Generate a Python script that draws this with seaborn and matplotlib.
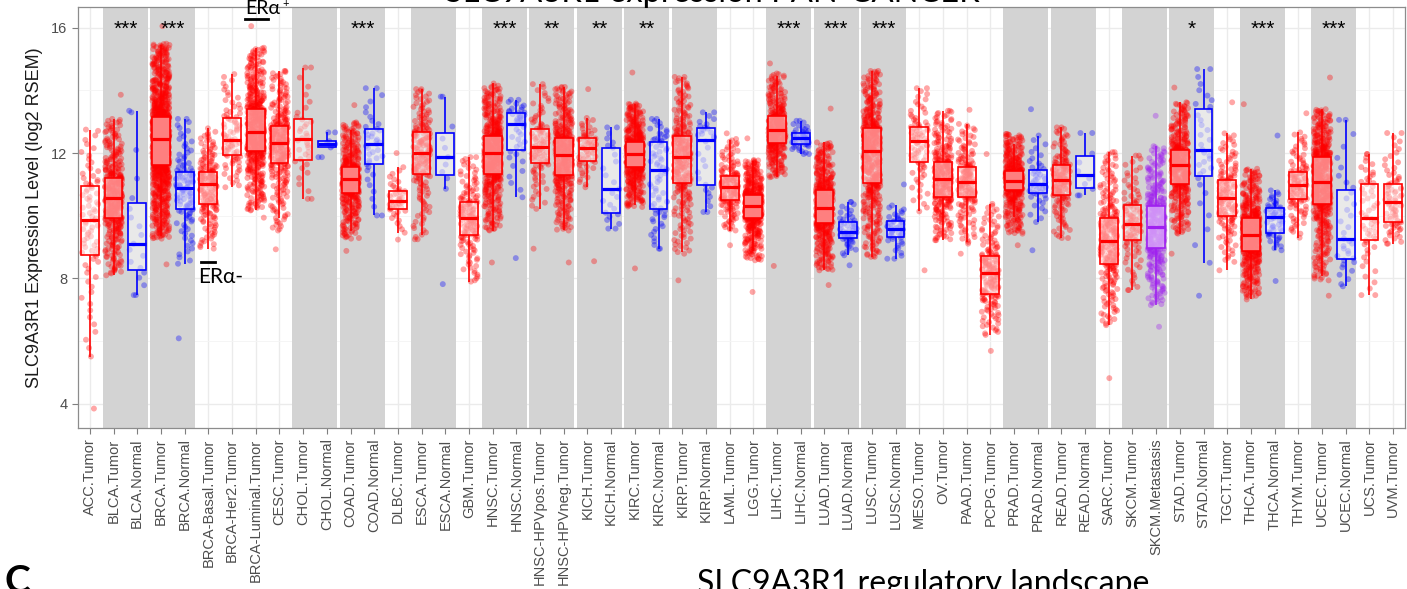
import numpy as np
import pandas as pd
import matplotlib
matplotlib.use("Agg")
import matplotlib.pyplot as plt
from matplotlib.lines import Line2D
import seaborn as sns

# ---- data: SLC9A3R1 expression summary per TCGA cohort (log2 RSEM) ----
groups = [
    "ACC.Tumor", "BLCA.Tumor", "BLCA.Normal", "BRCA.Tumor", "BRCA.Normal",
    "BRCA-Basal.Tumor", "BRCA-Her2.Tumor", "BRCA-Luminal.Tumor", "CESC.Tumor",
    "CHOL.Tumor", "CHOL.Normal", "COAD.Tumor", "COAD.Normal", "DLBC.Tumor",
    "ESCA.Tumor", "ESCA.Normal", "GBM.Tumor", "HNSC.Tumor", "HNSC.Normal",
    "HNSC-HPVpos.Tumor", "HNSC-HPVneg.Tumor", "KICH.Tumor", "KICH.Normal",
    "KIRC.Tumor", "KIRC.Normal", "KIRP.Tumor", "KIRP.Normal", "LAML.Tumor",
    "LGG.Tumor", "LIHC.Tumor", "LIHC.Normal", "LUAD.Tumor", "LUAD.Normal",
    "LUSC.Tumor", "LUSC.Normal", "MESO.Tumor", "OV.Tumor", "PAAD.Tumor",
    "PCPG.Tumor", "PRAD.Tumor", "PRAD.Normal", "READ.Tumor", "READ.Normal",
    "SARC.Tumor", "SKCM.Tumor", "SKCM.Metastasis", "STAD.Tumor", "STAD.Normal",
    "TGCT.Tumor", "THCA.Tumor", "THCA.Normal", "THYM.Tumor", "UCEC.Tumor",
    "UCEC.Normal", "UCS.Tumor", "UVM.Tumor",
]
n_samples = [79, 408, 19, 1093, 112, 190, 82, 566, 304, 36, 9, 457, 41, 48,
             184, 11, 153, 520, 44, 97, 421, 66, 25, 533, 72, 290, 32, 173,
             516, 371, 50, 515, 59, 501, 51, 87, 303, 179, 179, 497, 52, 166,
             10, 259, 103, 368, 415, 35, 150, 509, 59, 120, 545, 35, 57, 80]
low_point = [3.85, 8.10, 7.47, 8.45, 6.09, 8.95, 10.91, 9.94, 8.93, 10.54, 11.87,
             8.88, 10.01, 9.24, 9.25, 7.82, 7.90, 8.51, 8.65, 8.95, 8.51, 8.55,
             9.59, 8.32, 8.95, 7.94, 10.12, 9.06, 7.57, 8.40, 11.97, 7.79, 8.42,
             8.69, 8.63, 8.26, 9.22, 8.79, 5.69, 9.06, 8.90, 9.29, 10.65, 4.82,
             7.63, 6.46, 8.79, 7.45, 8.26, 7.33, 7.92, 9.30, 7.45, 7.75, 7.47, 9.11]
low_whisker = [5.51, 8.16, 7.47, 9.27, 8.47, 9.00, 10.97, 10.17, 9.53, 10.54, 11.87,
               9.27, 10.01, 9.46, 9.25, 10.86, 7.94, 9.53, 10.59, 10.22, 9.53, 10.91,
               9.59, 10.28, 8.95, 8.79, 10.12, 9.53, 8.58, 11.23, 11.97, 8.26, 8.74,
               8.69, 8.63, 10.14, 9.22, 9.11, 6.20, 9.43, 9.80, 9.29, 10.65, 6.51,
               7.63, 7.15, 9.43, 8.50, 8.53, 7.41, 8.90, 9.43, 7.94, 7.82, 7.47, 9.11]
q1 = [8.74, 9.93, 8.24, 11.63, 10.21, 10.38, 11.94, 12.08, 11.69, 11.79, 12.18,
      10.74, 11.64, 10.22, 11.34, 11.28, 9.38, 11.34, 12.10, 11.69, 11.30, 11.74,
      10.10, 11.55, 10.22, 11.05, 10.94, 10.49, 9.94, 12.31, 12.29, 9.77, 9.29,
      11.05, 9.34, 11.73, 10.59, 10.59, 7.52, 10.83, 10.72, 10.65, 10.88, 8.47,
      9.22, 8.97, 11.01, 11.28, 9.99, 8.87, 9.46, 10.52, 10.36, 8.60, 9.22, 9.80]
median = [9.86, 10.56, 9.11, 12.45, 10.89, 11.00, 12.43, 12.68, 12.32, 12.44, 12.29,
          11.16, 12.29, 10.48, 12.00, 11.87, 9.93, 11.99, 12.95, 12.18, 11.94, 12.17,
          10.85, 11.96, 11.46, 11.87, 12.47, 10.91, 10.31, 12.75, 12.47, 10.24, 9.48,
          12.06, 9.59, 12.38, 11.18, 11.07, 8.16, 11.11, 11.02, 11.15, 11.28, 9.20,
          9.75, 9.64, 11.61, 12.11, 10.56, 9.40, 9.96, 10.98, 11.07, 9.27, 9.94, 10.44]
q3 = [10.97, 11.22, 10.36, 13.16, 11.40, 11.41, 13.11, 13.40, 12.87, 13.09, 12.38,
      11.55, 12.77, 10.79, 12.68, 12.61, 10.45, 12.56, 13.28, 12.77, 12.48, 12.48,
      12.17, 12.36, 12.36, 12.53, 12.79, 11.26, 10.66, 13.17, 12.64, 10.81, 9.79,
      12.79, 9.84, 12.84, 11.72, 11.57, 8.71, 11.42, 11.46, 11.62, 11.91, 9.93,
      10.35, 10.31, 12.10, 13.44, 11.15, 9.93, 10.26, 11.39, 11.89, 10.83, 11.01, 11.01]
high_whisker = [12.71, 13.09, 13.30, 15.49, 13.09, 12.68, 14.43, 15.36, 14.62, 14.73,
                12.66, 12.98, 14.07, 11.55, 14.04, 13.80, 11.87, 14.15, 13.70, 14.20,
                14.11, 13.12, 12.82, 13.58, 13.09, 14.43, 13.30, 12.45, 11.78, 14.54,
                13.03, 12.34, 10.44, 14.62, 10.33, 14.07, 13.35, 12.93, 10.38, 12.61,
                12.56, 12.82, 12.64, 12.03, 11.92, 12.22, 13.62, 14.68, 12.63, 11.50,
                10.81, 12.66, 13.40, 13.06, 11.97, 12.64]
high_point = [12.75, 13.86, 13.35, 16.05, 13.09, 12.79, 14.52, 16.05, 14.62, 14.73,
              12.66, 13.53, 14.07, 12.00, 14.04, 13.80, 11.87, 14.22, 13.70, 14.20,
              14.11, 14.04, 12.82, 14.57, 13.09, 14.43, 13.30, 12.63, 12.47, 14.86,
              13.03, 13.42, 10.44, 14.62, 11.00, 14.07, 13.35, 13.38, 11.97, 12.61,
              13.40, 12.82, 12.64, 12.03, 11.92, 13.19, 14.09, 14.68, 13.62, 13.56,
              12.56, 13.27, 14.41, 13.06, 11.97, 12.64]

# tumour / normal pairs shaded grey, and the Wilcoxon significance of each pair
paired_starts = [1, 3, 9, 11, 14, 17, 19, 21, 23, 25, 29, 31, 33, 39, 41, 44, 46, 49, 52]
star_starts = [1, 3, 11, 17, 19, 21, 23, 29, 31, 33, 46, 49, 52]
star_labels = ["***", "***", "***", "***", "**", "**", "**", "***", "***", "***",
               "*", "***", "***"]

palette = {"Tumor": "#FF0000", "Normal": "#0000FF", "Metastasis": "#A020F0"}


def sample_values(i):
    """Expression values of one cohort: whiskers and quartiles as knots,
    thinning out from the box edges towards the whisker ends."""
    n = n_samples[i]
    t = 1.0 / (n - 1)
    p = np.linspace(0, 1, n)
    v = np.empty(n)
    b = 0.6
    a = p <= t
    v[a] = low_point[i] + (low_whisker[i] - low_point[i]) * (p[a] / t)
    a = (p > t) & (p <= 0.25)
    u = (p[a] - t) / (0.25 - t)
    v[a] = low_whisker[i] + (q1[i] - low_whisker[i]) * ((1 - b) * u + b * (1 - (1 - u) ** 2))
    a = (p > 0.25) & (p <= 0.75)
    v[a] = np.interp(p[a], [0.25, 0.5, 0.75], [q1[i], median[i], q3[i]])
    a = (p > 0.75) & (p <= 1 - t)
    u = (p[a] - 0.75) / (0.25 - t)
    v[a] = q3[i] + (high_whisker[i] - q3[i]) * ((1 - b) * u + b * u ** 2)
    a = p > 1 - t
    v[a] = high_whisker[i] + (high_point[i] - high_whisker[i]) * ((p[a] - (1 - t)) / t)
    return v


def jitter(k, i):
    """Deterministic scattered horizontal offsets in [-0.36, 0.36]."""
    h = np.sin((k + 1) * 12.9898 + (i + 1) * 78.233) * 43758.5453
    return (h - np.floor(h) - 0.5) * 0.72


frames = []
for i, g in enumerate(groups):
    vals = sample_values(i)
    k = np.arange(len(vals))
    frames.append(pd.DataFrame({
        "group": g,
        "kind": g.split(".")[1],
        "value": vals,
        "xpos": i + jitter(k, i),
    }))
df = pd.concat(frames, ignore_index=True)

# ---- figure ----
W, H = 1407, 589
fig = plt.figure(figsize=(W / 100, H / 100), dpi=100)
fig.patch.set_facecolor("white")
ax = fig.add_axes([78 / W, 1 - 428 / H, (1405 - 78) / W, (428 - 7) / H])


def fx(px):
    return px / W


def fy(py):
    return 1 - py / H


for kind, col in palette.items():
    sub = df[df["kind"] == kind]
    sns.boxplot(data=sub, x="group", y="value", order=groups, color=col,
                linecolor=col, linewidth=1.2, width=0.75, fill=True, dodge=False,
                showfliers=False, showcaps=False,
                boxprops=dict(facecolor=(1, 1, 1, 0.5), zorder=3),
                whiskerprops=dict(zorder=3),
                medianprops=dict(linewidth=2.3, zorder=3.2),
                ax=ax)

sns.scatterplot(data=df, x="xpos", y="value", hue="kind", palette=palette,
                s=18, alpha=0.35, linewidth=0, legend=False, ax=ax, zorder=2)

for s in paired_starts:
    ax.axvspan(s - 0.45, s + 1.45, color="#D3D3D3", lw=0, zorder=0.8)

for s, lab in zip(star_starts, star_labels):
    ax.text(s + 0.5, 15.95, lab, ha="center", va="center", fontsize=15,
            family="Liberation Sans", color="black", zorder=5)

ax.set_xlim(-0.5, len(groups) - 0.5)
ax.set_ylim(3.23, 16.66)
ax.set_yticks([4, 8, 12, 16])
ax.set_yticks([6, 10, 14], minor=True)
ax.set_xticks(range(len(groups)))
ax.set_xticklabels(groups, rotation=90, family="Liberation Sans", fontsize=10.5,
                   color="#333333")
ax.set_axisbelow(True)
ax.grid(True, which="major", color="#EBEBEB", lw=1.0)
ax.grid(True, which="minor", axis="y", color="#F4F4F4", lw=0.6)
ax.tick_params(axis="both", which="major", length=4, width=0.8, color="#7F7F7F",
               labelcolor="#4D4D4D")
ax.tick_params(axis="y", which="minor", length=0)
ax.tick_params(axis="y", labelsize=10.5)
for lab in ax.get_yticklabels():
    lab.set_family("Liberation Sans")
for sp in ax.spines.values():
    sp.set_visible(True)
    sp.set_color("#8C8C8C")
    sp.set_linewidth(0.9)
ax.set_xlabel("")
ax.set_ylabel("SLC9A3R1 Expression Level (log2 RSEM)", family="Liberation Sans",
              fontsize=13, color="#1A1A1A", labelpad=6)

# ---- panel annotations ----
fig.text(fx(445), fy(2), "SLC9A3R1 expression PAN-CANCER", fontsize=23.5,
         family="Lato", va="baseline", ha="left")
fig.text(fx(245), fy(14), "ERα", fontsize=14, family="Lato", va="baseline")
fig.text(fx(282), fy(7), "+", fontsize=8, family="Lato", va="baseline")
fig.add_artist(Line2D([fx(245), fx(268)], [fy(19), fy(19)], color="black", lw=2))
fig.text(fx(198), fy(283), "ERα-", fontsize=15, family="Lato", va="baseline")
fig.add_artist(Line2D([fx(201), fx(215)], [fy(262), fy(262)], color="black", lw=2))
fig.text(fx(4), fy(593), "C", fontsize=28, family="Lato", weight="bold",
         va="baseline")
fig.text(fx(697), fy(593), "SLC9A3R1 regulatory landscape", fontsize=23,
         family="Lato", va="baseline")

fig.savefig("out.png", dpi=100)
